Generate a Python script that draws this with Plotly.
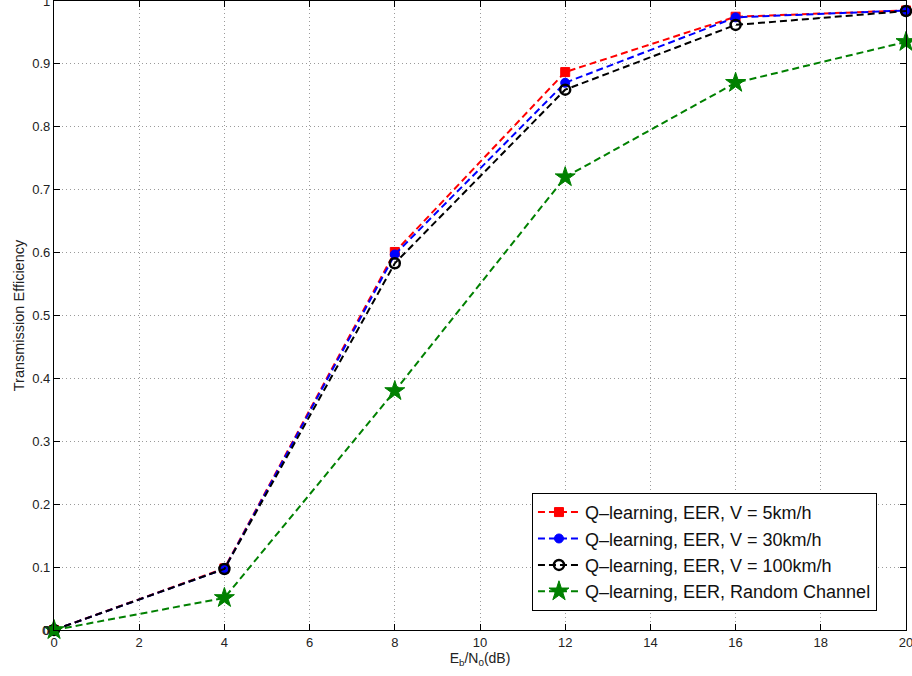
import plotly.graph_objects as go

# Eb/N0 in dB
snr_db = [0, 4, 8, 12, 16, 20]

# Transmission efficiency per mobility scenario
eff_5kmh = [0.0, 0.098, 0.601, 0.887, 0.975, 0.985]
eff_30kmh = [0.0, 0.097, 0.597, 0.870, 0.974, 0.985]
eff_100kmh = [0.0, 0.097, 0.583, 0.859, 0.962, 0.984]
eff_random = [0.0, 0.051, 0.380, 0.720, 0.870, 0.935]

series_names = [
    "Q\u2013learning, EER, V = 5km/h",
    "Q\u2013learning, EER, V = 30km/h",
    "Q\u2013learning, EER, V = 100km/h",
    "Q\u2013learning, EER, Random Channel",
]

x_ticks = [0, 2, 4, 6, 8, 10, 12, 14, 16, 18, 20]
y_ticks = [0, 0.1, 0.2, 0.3, 0.4, 0.5, 0.6, 0.7, 0.8, 0.9, 1]
y_tick_text = ["0", "0.1", "0.2", "0.3", "0.4", "0.5", "0.6", "0.7", "0.8", "0.9", "1"]

FONT = "Liberation Sans, Arial, Helvetica, sans-serif"
DASH = "7px,4px"
TICK_FONT = dict(family=FONT, size=13, color="#222222")

styles = [
    dict(color="#ff0000", marker=dict(symbol="square", size=9, color="#ff0000",
                                       line=dict(color="#ff0000", width=1))),
    dict(color="#0000ff", marker=dict(symbol="circle", size=9, color="#0000ff",
                                       line=dict(color="#0000ff", width=1))),
    dict(color="#000000", marker=dict(symbol="circle-open", size=10, color="#000000",
                                       line=dict(color="#000000", width=2.5))),
    dict(color="#008000", marker=dict(symbol="star", size=15, color="#008000",
                                       line=dict(color="#008000", width=1))),
]

fig = go.Figure()
for name, ys, st in zip(series_names, [eff_5kmh, eff_30kmh, eff_100kmh, eff_random], styles):
    fig.add_trace(go.Scatter(
        x=snr_db, y=ys, name=name, mode="lines+markers",
        line=dict(color=st["color"], width=2, dash=DASH),
        marker=st["marker"],
        cliponaxis=False,
    ))

axis_common = dict(
    showline=True, linecolor="black", linewidth=1.2, mirror="ticks",
    ticks="inside", ticklen=6, tickcolor="black", tickwidth=1,
    showgrid=True, gridcolor="#9a9a9a", gridwidth=1, griddash="1px,3px",
    zeroline=False, ticklabeloverflow="allow", automargin=False,
    tickfont=TICK_FONT,
)

fig.update_xaxes(range=[0, 20], tickvals=x_ticks, ticktext=[str(v) for v in x_ticks],
                 title=dict(text="E<sub>b</sub>/N<sub>0</sub>(dB)",
                            font=dict(family=FONT, size=14, color="#222222"), standoff=2),
                 **axis_common)
fig.update_yaxes(range=[0, 1], tickvals=y_ticks, ticktext=y_tick_text,
                 title=dict(text="Transmission Efficiency",
                            font=dict(family=FONT, size=14.5, color="#222222"), standoff=4),
                 **axis_common)

# y-axis label at the origin corner
fig.add_annotation(x=0, y=y_ticks[0], xref="paper", yref="y", text=y_tick_text[0],
                   showarrow=False, xanchor="right", yanchor="middle", xshift=-3,
                   font=TICK_FONT)

fig.update_layout(
    width=912, height=676,
    margin=dict(l=54, r=6, t=1, b=46),
    paper_bgcolor="white", plot_bgcolor="white",
    font=dict(family=FONT, color="#111111"),
    legend=dict(
        x=0.561, y=0.218, xanchor="left", yanchor="top",
        bgcolor="white", bordercolor="black", borderwidth=1,
        font=dict(family=FONT, size=18, color="#111111"),
        itemwidth=42, tracegroupgap=0,
    ),
    showlegend=True,
)

fig.write_html("out.html")
